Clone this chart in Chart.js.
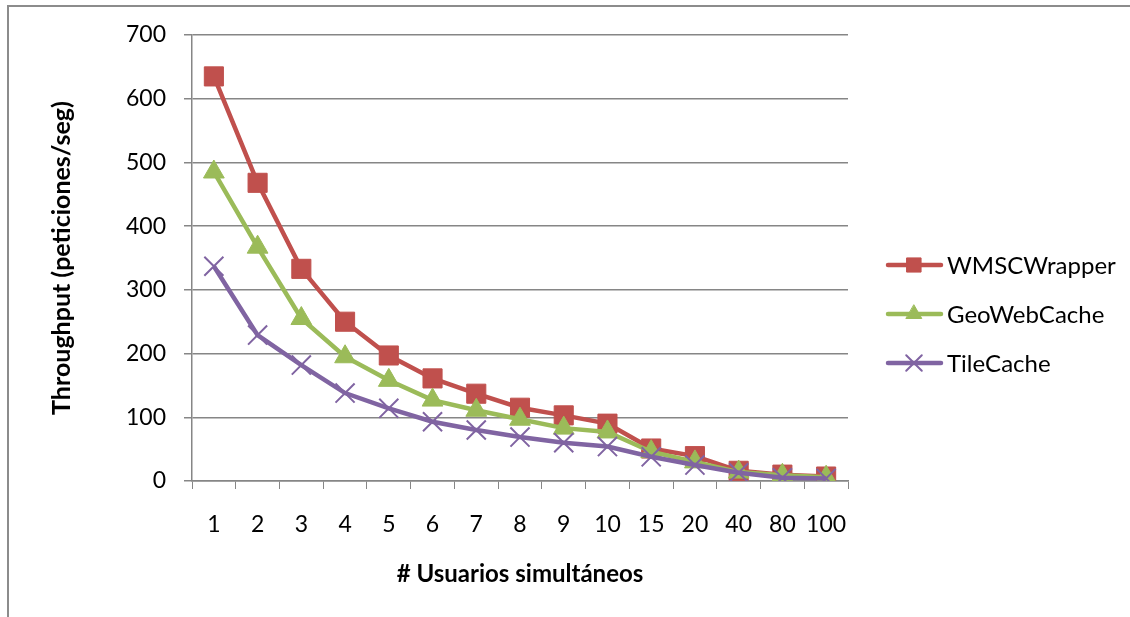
<!DOCTYPE html>
<html>
<head>
<meta charset="utf-8">
<script src="https://cdn.jsdelivr.net/npm/chart.js@4/dist/chart.umd.min.js"></script>
<style>
  html, body { margin: 0; padding: 0; background: #fff; overflow: hidden; }
  #frame { position: absolute; left: 7px; top: 5px; width: 1300px; height: 800px; border-left: 2px solid #8c8c8c; border-top: 2px solid #8c8c8c; }
  #chart { position: absolute; left: 0; top: 0; }
</style>
</head>
<body>
<div id="frame"></div>
<canvas id="chart" width="1130" height="617"></canvas>
<script>
const usuarios = ["1", "2", "3", "4", "5", "6", "7", "8", "9", "10", "15", "20", "40", "80", "100"];
const wmscWrapper = [635, 468, 333, 250, 197, 161, 137, 115, 103, 90, 51, 39, 16, 10, 7];
const geoWebCache = [485, 367, 255, 195, 158, 127, 111, 97, 83, 77, 46, 30, 14, 9, 6];
const tileCache = [337, 229, 182, 138, 114, 93, 80, 69, 60, 54, 38, 25, 13, 5, 4];
const yTicks = [0, 100, 200, 300, 400, 500, 600, 700];

const RED = "#C0504D";
const GREEN = "#9BBB59";
const PURPLE = "#8064A2";
const GRID = "#868686";
const FONT = "Lato";

// leyenda dibujada a mano: linea con marcador en medio
const legendPlugin = {
  id: "excelLegend",
  afterDraw(chart) {
    const ctx = chart.ctx;
    const items = [
      { text: "WMSCWrapper", ds: chart.data.datasets[0], y: 265, r: 10 },
      { text: "GeoWebCache", ds: chart.data.datasets[1], y: 314, r: 9 },
      { text: "TileCache", ds: chart.data.datasets[2], y: 363, r: 11 }
    ];
    items.forEach(it => {
      ctx.save();
      ctx.strokeStyle = it.ds.borderColor;
      ctx.lineWidth = 4.5;
      ctx.lineCap = "round";
      ctx.beginPath();
      ctx.moveTo(888, it.y);
      ctx.lineTo(941, it.y);
      ctx.stroke();
      ctx.fillStyle = it.ds.pointBackgroundColor;
      ctx.strokeStyle = it.ds.pointBorderColor;
      ctx.lineWidth = it.ds.pointBorderWidth;
      Chart.helpers.drawPoint(ctx, {
        pointStyle: it.ds.pointStyle,
        radius: it.r,
        rotation: 0,
        borderWidth: it.ds.pointBorderWidth
      }, 914, it.y);
      ctx.fillStyle = "#000";
      ctx.font = "24px '" + FONT + "'";
      ctx.textBaseline = "middle";
      ctx.textAlign = "left";
      ctx.fillText(it.text, 947, it.y + 1);
      ctx.restore();
    });
  }
};

new Chart(document.getElementById("chart"), {
  type: "line",
  data: {
    labels: usuarios,
    datasets: [
      {
        label: "WMSCWrapper",
        data: wmscWrapper,
        borderColor: RED,
        backgroundColor: RED,
        pointBackgroundColor: RED,
        pointBorderColor: RED,
        pointBorderWidth: 1,
        pointStyle: "rect",
        pointRadius: 13.5,
        borderWidth: 4.5,
        tension: 0,
        order: 3
      },
      {
        label: "GeoWebCache",
        data: geoWebCache,
        borderColor: GREEN,
        backgroundColor: GREEN,
        pointBackgroundColor: GREEN,
        pointBorderColor: GREEN,
        pointBorderWidth: 1,
        pointStyle: "triangle",
        pointRadius: 12,
        borderWidth: 4.5,
        tension: 0,
        order: 2
      },
      {
        label: "TileCache",
        data: tileCache,
        borderColor: PURPLE,
        backgroundColor: PURPLE,
        pointBackgroundColor: PURPLE,
        pointBorderColor: PURPLE,
        pointBorderWidth: 2,
        pointStyle: "crossRot",
        pointRadius: 13.5,
        borderWidth: 4.5,
        tension: 0,
        order: 1
      }
    ]
  },
  options: {
    responsive: false,
    animation: false,
    devicePixelRatio: 1,
    layout: { padding: { left: 0, top: 35, right: 282, bottom: 0 } },
    plugins: {
      legend: { display: false },
      tooltip: { enabled: false }
    },
    scales: {
      x: {
        offset: true,
        grid: {
          offset: true,
          drawOnChartArea: false,
          drawTicks: true,
          tickLength: 8,
          color: GRID,
          lineWidth: 1
        },
        border: { color: GRID, width: 1.5 },
        ticks: {
          color: "#000",
          font: { family: FONT, size: 23 },
          padding: 22,
          maxRotation: 0,
          autoSkip: false
        },
        title: {
          display: true,
          text: "# Usuarios simultáneos",
          color: "#000",
          font: { family: FONT, size: 24, weight: "bold" },
          padding: { top: 0, bottom: 28 }
        },
        afterFit(scale) { scale.height = 136; }
      },
      y: {
        min: 0,
        max: 700,
        afterBuildTicks(scale) { scale.ticks = yTicks.map(v => ({ value: v })); },
        grid: {
          color: GRID,
          lineWidth: 1.5,
          drawTicks: true,
          tickLength: 8
        },
        border: { color: GRID, width: 1.5 },
        ticks: {
          color: "#000",
          font: { family: FONT, size: 23 },
          padding: 18
        },
        title: {
          display: true,
          text: "Throughput (peticiones/seg)",
          color: "#000",
          font: { family: FONT, size: 25, weight: "bold" },
          padding: { top: 47, bottom: 0 }
        },
        afterFit(scale) { scale.width = 192; }
      }
    }
  },
  plugins: [legendPlugin]
});
</script>
</body>
</html>
